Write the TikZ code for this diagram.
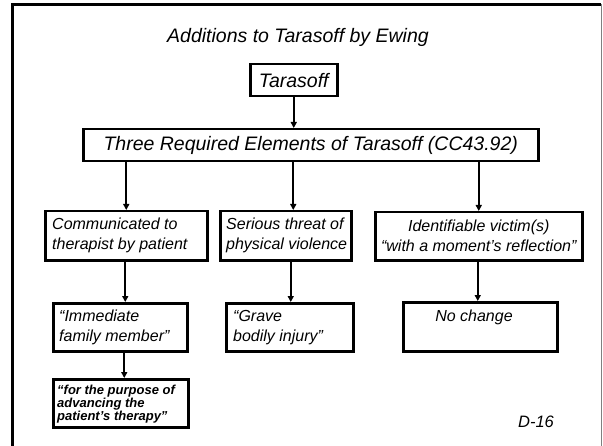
\documentclass[tikz,border=0pt]{standalone}
\usepackage{fontspec}
\setmainfont{Liberation Sans}
\usetikzlibrary{arrows.meta,calc}
\begin{document}
\begin{tikzpicture}[x=1bp,y=-1bp,
  box/.style={draw, line width=2.5bp, inner sep=0pt, anchor=north west},
  txt/.style={inner sep=0pt, align=left, font=\fontsize{16bp}{20bp}\selectfont\itshape},
  ctxt/.style={inner sep=0pt, align=center, font=\fontsize{16bp}{20bp}\selectfont\itshape},
  big/.style={inner sep=0pt, font=\fontsize{19.5bp}{22bp}\selectfont\itshape},
  btxt/.style={inner sep=0pt, align=left, font=\fontsize{13bp}{13bp}\selectfont\bfseries\itshape},
  arr/.style={line width=2bp, -{Triangle[length=6bp,width=6bp]}}]
\useasboundingbox (0,0) rectangle (603,446);
% slide frame
\draw[line width=3bp] (12.5,446) -- (12.5,5) -- (601,5);
\draw[line width=1.5bp, gray] (601.5,4) -- (601.5,446);
% title
\node[big] (title) at (298,37) {Additions to Tarasoff by Ewing};
% boxes
\node[box, minimum width=87bp, minimum height=32bp] (tara) at (249,63) {};
\node[big] (taraT) at (tara.center) {Tarasoff};
\node[box, minimum width=455bp, minimum height=32bp] (three) at (82,128) {};
\node[big] (threeT) at (three.center) {Three Required Elements of Tarasoff (CC43.92)};
\node[box, minimum width=162bp, minimum height=49bp] (b1) at (44,210) {};
\node[txt, anchor=west] (b1T) at ([xshift=8bp]b1.west) {Communicated to\\therapist by patient};
\node[box, minimum width=131bp, minimum height=49bp] (b2) at (219,210) {};
\node[txt, anchor=west] (b2T) at ([xshift=7bp]b2.west) {Serious threat of\\physical violence};
\node[box, minimum width=207bp, minimum height=48bp] (b3) at (374,211) {};
\node[ctxt] (b3T) at (b3.center) {Identifiable victim(s)\\“with a moment’s reflection”};
\node[box, minimum width=134bp, minimum height=48bp] (imm) at (52,302) {};
\node[txt, anchor=west] (immT) at ([xshift=7bp]imm.west) {“Immediate\\family member”};
\node[box, minimum width=127bp, minimum height=48bp] (grave) at (225,302) {};
\node[txt, anchor=west] (graveT) at ([xshift=8bp]grave.west) {“Grave\\bodily injury”};
\node[box, minimum width=154bp, minimum height=49bp] (noch) at (402,301) {};
\node[ctxt] (nochT) at (474,317) {No change};
\node[box, minimum width=135bp, minimum height=48bp] (purp) at (52,378) {};
\node[btxt, anchor=west] (purpT) at ([xshift=5bp,yshift=-1bp]purp.west) {“for the purpose of\\advancing the\\patient’s therapy”};
\node[ctxt, font=\fontsize{16.5bp}{20bp}\selectfont\itshape] (d16) at (536,422) {D-16};
% connectors
\draw[arr] (tara.south) -- (tara.south |- three.north);
\draw[arr] (b1.north |- three.south) -- (b1.north);
\draw[arr] ([xshift=7.5bp]b2.north |- three.south) -- ([xshift=7.5bp]b2.north);
\draw[arr] (b3.north |- three.south) -- (b3.north);
\draw[arr] ([xshift=-1bp]b1.south) -- ([xshift=-1bp]b1.south |- imm.north);
\draw[arr] ([xshift=5bp]b2.south) -- ([xshift=5bp]b2.south |- grave.north);
\draw[arr] ([xshift=-1bp]b3.south) -- ([xshift=-1bp]b3.south |- noch.north);
\draw[arr] ([xshift=4bp]imm.south) -- ([xshift=4bp]imm.south |- purp.north);
\end{tikzpicture}
\end{document}
